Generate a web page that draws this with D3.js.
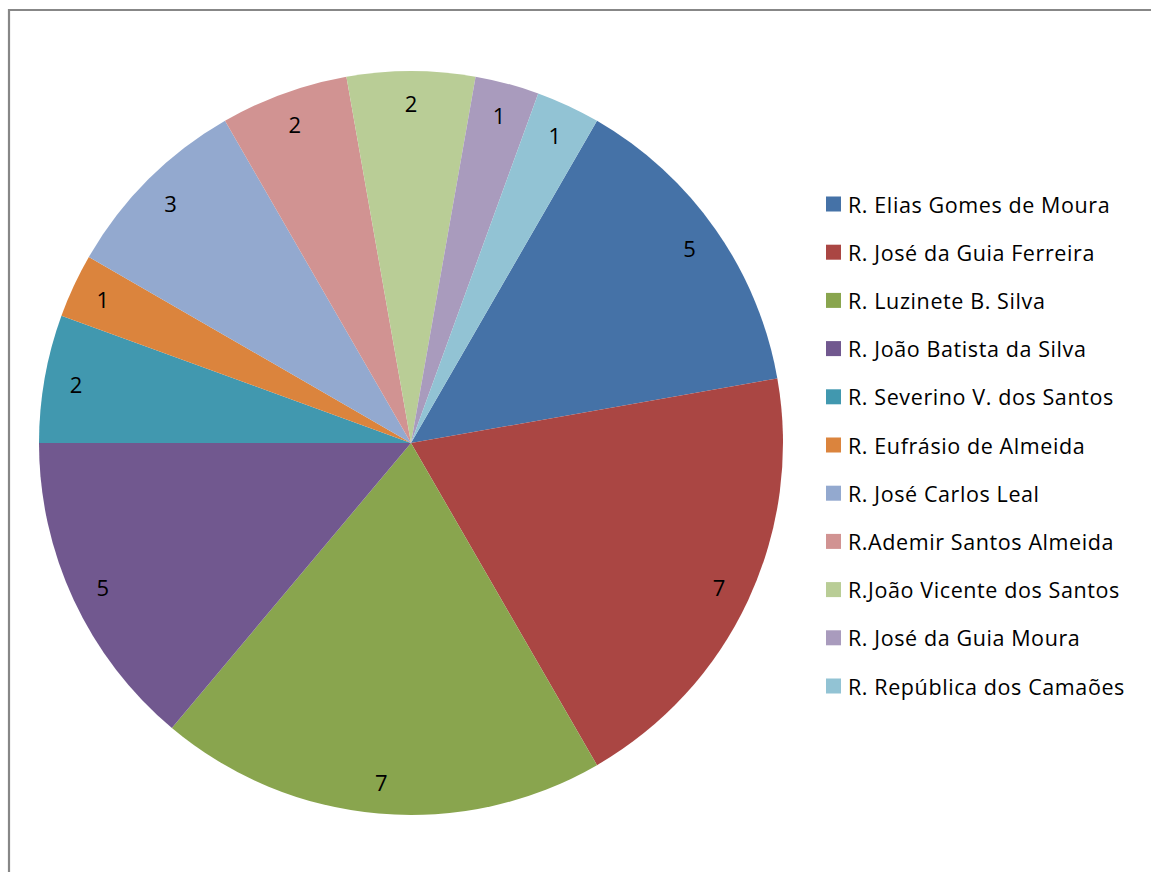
<!DOCTYPE html>
<html><head><meta charset="utf-8">
<script src="https://cdn.jsdelivr.net/npm/d3@7"></script>
<style>body{margin:0;background:#fff}svg{display:block}</style>
</head><body>
<svg id="c" width="1151" height="872"></svg>
<script>
const categories = ["R. Elias Gomes de Moura","R. José da Guia Ferreira","R. Luzinete B. Silva","R. João Batista da Silva","R. Severino V. dos Santos","R. Eufrásio de Almeida","R. José Carlos Leal","R.Ademir Santos Almeida","R.João Vicente dos Santos","R. José da Guia Moura","R. República dos Camaões"];
const values = [5,7,7,5,2,1,3,2,2,1,1];
const colors = ["#4572A7","#AA4643","#89A54E","#71588F","#4198AF","#DB843D","#93A9CF","#D19392","#B9CD96","#A99BBD","#92C3D4"];

const svg = d3.select("#c");
const font = "'Open Sans', Lato, sans-serif";
// frame
svg.append("path").attr("d","M9,872 V10 H1151").attr("fill","none").attr("stroke","#878787").attr("stroke-width",2.2);

const cx = 411, cy = 443, R = 372;
const data = categories.map((c,i)=>({c, v:values[i], col:colors[i]}));
const pie = d3.pie().value(d=>d.v).sort(null).startAngle(Math.PI/6).endAngle(Math.PI/6 + 2*Math.PI);
const arcs = pie(data);
const arc = d3.arc().innerRadius(0).outerRadius(R);
const labelArc = d3.arc().innerRadius(340).outerRadius(340);
const g = svg.append("g").attr("transform",`translate(${cx},${cy})`);
g.selectAll("path.s").data(arcs).join("path").attr("class","s").attr("d",arc).attr("fill",d=>d.data.col);
g.selectAll("text").data(arcs).join("text")
  .attr("transform",d=>`translate(${labelArc.centroid(d)})`)
  .attr("text-anchor","middle").attr("dominant-baseline","central")
  .attr("font-family",font).attr("font-size",22).attr("fill","#000")
  .text(d=>d.data.v);

// legend
const ly = d3.scalePoint().domain(categories).range([204,686]);
const lg = svg.append("g");
const items = lg.selectAll("g").data(data).join("g").attr("transform",d=>`translate(826,${ly(d.c)})`);
items.append("rect").attr("x",0).attr("y",-7.5).attr("width",15).attr("height",15).attr("fill",d=>d.col);
items.append("text").attr("x",22).attr("y",0).attr("dominant-baseline","central")
  .attr("font-family",font).attr("font-size",21.5).attr("letter-spacing",0.6).attr("fill","#000").text(d=>d.c);
</script>
</body></html>
